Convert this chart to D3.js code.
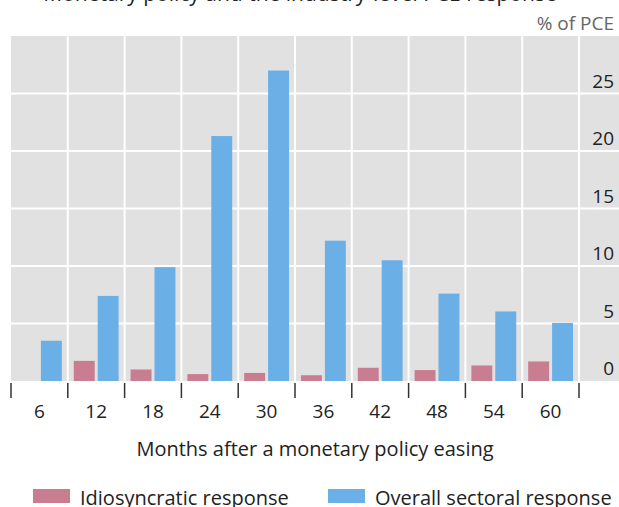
<!DOCTYPE html>
<html>
<head>
<meta charset="utf-8">
<script src="https://cdn.jsdelivr.net/npm/d3@7"></script>
<style>
  body { margin: 0; background: #fff; }
  svg text { font-family: 'Open Sans', sans-serif; }
</style>
</head>
<body>
<script>
// months after easing, and the two responses (% of PCE)
var months = ['6', '12', '18', '24', '30', '36', '42', '48', '54', '60'];
var idiosyncratic = [0, 1.75, 1.0, 0.6, 0.7, 0.5, 1.15, 0.95, 1.35, 1.7];
var overall = [3.5, 7.4, 9.9, 21.3, 27.0, 12.2, 10.5, 7.6, 6.05, 5.05];
var yTicks = [0, 5, 10, 15, 20, 25];
var seriesNames = ['Idiosyncratic response', 'Overall sectoral response'];
var colors = ['#c97d90', '#6aafe6'];

var width = 619, height = 507;
var plotTop = 36, plotBottom = 381, plotLeft = 11, plotRight = 579;

var svg = d3.select('body').append('svg')
    .attr('width', width)
    .attr('height', height);

// cut off title at the very top
svg.append('text')
    .attr('x', 300)
    .attr('y', 1)
    .attr('text-anchor', 'middle')
    .style('font-size', '21px')
    .style('fill', '#222')
    .text('Monetary policy and the industry-level PCE response');

svg.append('text')
    .attr('x', 614)
    .attr('y', 30)
    .attr('text-anchor', 'end')
    .style('font-size', '19px')
    .style('fill', '#666')
    .text('% of PCE');

// plot background
svg.append('rect')
    .attr('x', plotLeft)
    .attr('y', plotTop)
    .attr('width', width - plotLeft)
    .attr('height', plotBottom - plotTop)
    .attr('fill', '#e1e1e1');

var x = d3.scaleBand()
    .domain(months)
    .range([plotLeft, plotRight]);

var subx = d3.scaleBand()
    .domain([0, 1])
    .range([0, x.step()])
    .paddingInner(0.125)
    .paddingOuter(0.25);

var y = d3.scaleLinear()
    .domain([0, 30])
    .range([plotBottom, plotTop]);

// horizontal gridlines
svg.append('g').selectAll('line')
    .data(yTicks.filter(d => d > 0))
    .enter().append('line')
    .attr('x1', plotLeft).attr('x2', width)
    .attr('y1', d => y(d)).attr('y2', d => y(d))
    .attr('stroke', '#fff')
    .attr('stroke-width', 2);

// vertical gridlines at band edges
var edges = months.map(d => x(d)).concat([plotRight]);
svg.append('g').selectAll('line')
    .data(edges.slice(1))
    .enter().append('line')
    .attr('x1', d => d).attr('x2', d => d)
    .attr('y1', plotTop).attr('y2', plotBottom)
    .attr('stroke', '#fff')
    .attr('stroke-width', 2);

// bars
var rows = months.map(function(m, i) {
    return {month: m, values: [idiosyncratic[i], overall[i]]};
});
var groups = svg.selectAll('.grp')
    .data(rows)
    .enter().append('g')
    .attr('transform', d => 'translate(' + x(d.month) + ',0)');

groups.selectAll('rect')
    .data(d => d.values.map((v, k) => ({k: k, v: v})).filter(e => e.v > 0))
    .enter().append('rect')
    .attr('x', d => subx(d.k))
    .attr('width', subx.bandwidth())
    .attr('y', d => y(d.v))
    .attr('height', d => plotBottom - y(d.v))
    .attr('fill', d => colors[d.k]);

// y labels on the right, sitting above their gridlines
svg.append('g').selectAll('text')
    .data(yTicks)
    .enter().append('text')
    .attr('x', 614)
    .attr('y', d => y(d) - 6)
    .attr('text-anchor', 'end')
    .style('font-size', '19px')
    .style('fill', '#222')
    .text(d => d);

// x ticks at band edges
svg.append('g').selectAll('line')
    .data(edges)
    .enter().append('line')
    .attr('x1', d => d).attr('x2', d => d)
    .attr('y1', 383).attr('y2', 398)
    .attr('stroke', '#333')
    .attr('stroke-width', 1.5);

svg.append('g').selectAll('text')
    .data(months)
    .enter().append('text')
    .attr('x', d => x(d) + x.bandwidth() / 2)
    .attr('y', 418)
    .attr('text-anchor', 'middle')
    .style('font-size', '19px')
    .style('fill', '#222')
    .text(d => d);

svg.append('text')
    .attr('x', 315)
    .attr('y', 456)
    .attr('text-anchor', 'middle')
    .style('font-size', '20px')
    .style('fill', '#222')
    .text('Months after a monetary policy easing');

// legend
var legendX = [33, 328];
var legend = svg.selectAll('.leg')
    .data(seriesNames)
    .enter().append('g')
    .attr('transform', (d, i) => 'translate(' + legendX[i] + ',489)');
legend.append('rect')
    .attr('width', 37)
    .attr('height', 14)
    .attr('fill', (d, i) => colors[i]);
legend.append('text')
    .attr('x', 47)
    .attr('y', 16)
    .style('font-size', '20px')
    .style('fill', '#222')
    .text(d => d);
</script>
</body>
</html>
